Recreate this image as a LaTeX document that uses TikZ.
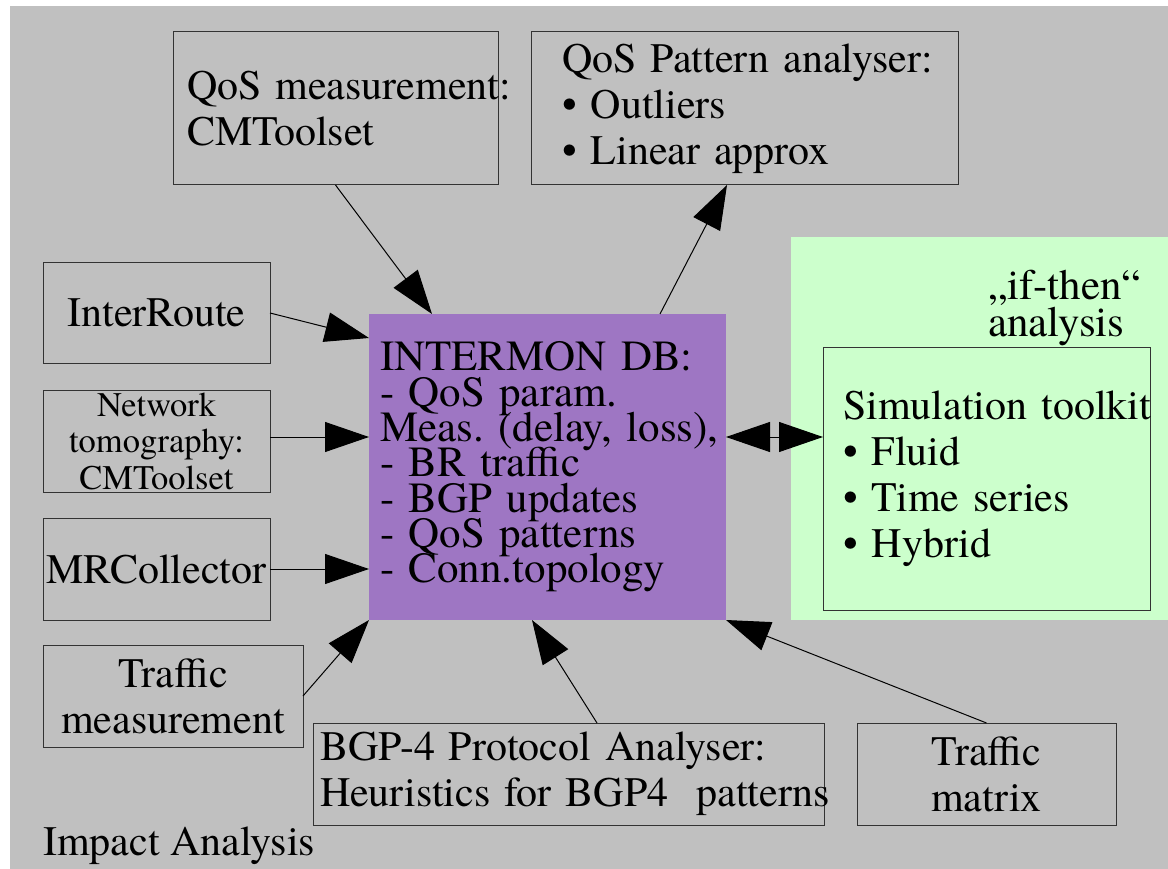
\documentclass[tikz,border=0pt]{standalone}
\usepackage{fontspec}
\setmainfont{texgyretermes}[Extension=.otf, UprightFont=*-regular, BoldFont=*-bold, ItalicFont=*-italic, BoldItalicFont=*-bolditalic]
\usetikzlibrary{arrows.meta}
\definecolor{bggray}{HTML}{C0C0C0}
\definecolor{dbpurple}{HTML}{9E76C3}
\definecolor{simgreen}{HTML}{CCFFCC}
\newcommand{\nohy}{\hyphenpenalty=10000\exhyphenpenalty=10000\relax}
\newcommand{\boxfont}{\fontsize{42}{46}\selectfont\nohy}
\newcommand{\dbfont}{\fontsize{43}{35.3}\selectfont\lineskiplimit=-50pt\nohy}
\tikzset{
	box/.style={draw=black!80, line width=1pt, anchor=north west, inner sep=0pt, outer sep=0pt, font=\boxfont},
	dbbox/.style={fill=dbpurple, anchor=north west, inner ysep=0pt, outer sep=0pt, align=left, font=\dbfont},
	arr/.style={-{Triangle[length=44pt,width=30pt]}, line width=1pt},
	dblarr/.style={{Triangle[length=44pt,width=30pt]}-{Triangle[length=44pt,width=30pt]}, line width=1pt},
}
\begin{document}
\begin{tikzpicture}[x=1pt, y=-1pt]
	\useasboundingbox (0,0) rectangle (1168,869);
	\fill[bggray] (10,6) rectangle (1168,869);
	\fill[simgreen] (791,237) rectangle (1168,620);
	\node[box, minimum height=153, inner xsep=14, text width=297, align=left] (qosmeas) at (173,32) {QoS~measurement:\\CMToolset};
	\node[box, minimum height=153, inner xsep=31, text width=365, align=left] (qospat) at (531,32) {QoS~Pattern~analyser:\\\textbullet{} Outliers\\\textbullet{} Linear~approx};
	\node[box, minimum width=227, minimum height=100] (interroute) at (43,263) {InterRoute};
	\node[box, minimum width=227, minimum height=102, align=center, font=\fontsize{34.5}{36.5}\selectfont] (tomo) at (43,390) {Network\\tomography:\\CMToolset};
	\node[box, minimum width=227, minimum height=102] (mrcoll) at (43,518) {MRCollector};
	\node[box, minimum width=260, minimum height=102, align=center] (trafmeas) at (43,645) {Traffic\\measurement};
	\node[box, minimum height=102, inner xsep=7, text width=497, align=left] (bgp) at (313,723) {BGP-4~Protocol~Analyser:\\Heuristics~for~BGP4~~patterns};
	\node[box, minimum width=259, minimum height=102, align=center] (trafmat) at (857,723) {Traffic\\matrix};
	\node[dbbox, minimum height=306, inner xsep=11, text width=335] (db) at (369,314) {INTERMON~DB:\\- QoS~param.\\Meas.~(delay,~loss),\\- BR~traffic\\- BGP~updates\\- QoS~patterns\\- Conn.topology};
	\node[box, minimum height=263, inner xsep=20, text width=287, align=left] (simkit) at (823,347) {Simulation~toolkit\\\textbullet{} Fluid\\\textbullet{} Time~series\\\textbullet{} Hybrid};
	\node[anchor=base west, inner sep=0pt, align=left, font=\fontsize{43}{37}\selectfont] (ifthen) at (988,337) {„if-then“\\analysis};
	\node[anchor=base west, inner sep=0pt, font=\boxfont] (impact) at (43,855) {Impact Analysis};
	\draw[arr] (qosmeas.south) -- ([xshift=63pt]db.north west);
	\draw[arr] ([xshift=291pt]db.north west) -- ([xshift=196pt]qospat.south west);
	\draw[arr] (interroute.east) -- ([yshift=-24pt]db.north west);
	\draw[arr] ([yshift=4pt]tomo.east) -- ([yshift=4pt]tomo.east -| db.west);
	\draw[arr] (mrcoll.east) -- (mrcoll.east -| db.west);
	\draw[arr] (trafmeas.east) -- (db.south west);
	\draw[arr] ([xshift=284pt]bgp.north west) -- ([xshift=163pt]db.south west);
	\draw[arr] (trafmat.north) -- (db.south east);
	\draw[dblarr] ([yshift=-123pt]db.north east) -- ([yshift=-90pt]simkit.north west);
\end{tikzpicture}
\end{document}
